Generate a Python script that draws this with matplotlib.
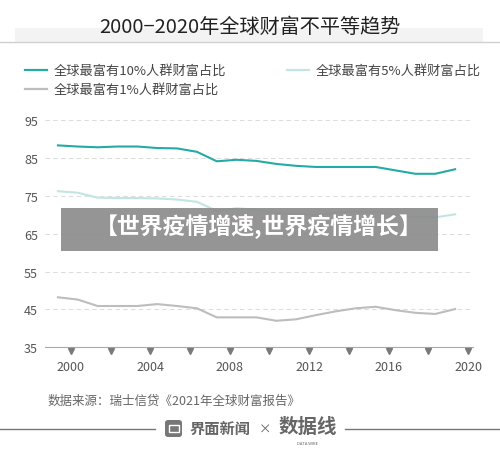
import numpy as np
import matplotlib
matplotlib.use("Agg")
import matplotlib.pyplot as plt
from matplotlib.patches import Rectangle, FancyBboxPatch
from matplotlib import transforms

plt.rcParams['font.family'] = ['Noto Sans CJK SC', 'DejaVu Sans']

# data (share of global wealth, %)
years = list(range(2000, 2021))
top10 = [88.3, 88.0, 87.8, 88.0, 88.0, 87.6, 87.5, 86.6, 84.1, 84.5, 84.2,
         83.4, 82.9, 82.6, 82.6, 82.6, 82.6, 81.7, 80.8, 80.8, 82.0]
top5 = [76.2, 75.8, 74.5, 74.4, 74.4, 74.3, 74.0, 73.4, 71.0, 71.7, 71.3,
        70.5, 70.1, 70.0, 70.5, 70.8, 70.8, 70.0, 69.4, 69.3, 70.1]
top1 = [48.2, 47.6, 45.9, 45.9, 45.9, 46.4, 45.9, 45.3, 42.9, 42.9, 42.9,
        42.0, 42.4, 43.5, 44.5, 45.3, 45.7, 44.8, 44.1, 43.8, 45.1]
labels = ['全球最富有10%人群财富占比', '全球最富有5%人群财富占比', '全球最富有1%人群财富占比']
colors = ['#26aaa5', '#c2e5e1', '#bdbdbd']
yticks = [35, 45, 55, 65, 75, 85, 95]
xlabel_years = [2000, 2004, 2008, 2012, 2016, 2020]
xmark_years = list(range(2000, 2021, 2))
shift = 0.65  # the axis labels sit a bit to the right of the data points

fig = plt.figure(figsize=(5, 4.6), dpi=100)
fig.patch.set_facecolor('white')

# title band
fig.patches.append(Rectangle((0.03, 1 - 43 / 460), 0.936, 14 / 460, transform=fig.transFigure,
                             facecolor='#f3f3f3', edgecolor='none', zorder=0))
fig.add_artist(plt.Line2D([0, 1], [1 - 43 / 460] * 2, color='#d0d0d0', lw=1))
fig.text(0.5, 1 - 27 / 460, '2000−2020年全球财富不平等趋势', ha='center', va='center',
         fontsize=14.5, color='#222222', weight='medium')

ax = fig.add_axes([0.09, 1 - 348.3 / 460, 0.856, (348.3 - 121) / 460])
x = np.array(years, dtype=float)
ax.plot(x, top10, color=colors[0], lw=1.5, zorder=3)
ax.plot(x, top5, color=colors[1], lw=1.5, zorder=3)
ax.plot(x, top1, color=colors[2], lw=1.5, zorder=3)

ax.set_ylim(35, 95)
ax.set_xlim(1999.35, 2020.9)
ax.set_yticks(yticks)
ax.set_xticks([y + shift for y in xlabel_years])
ax.set_xticklabels([str(y) for y in xlabel_years])
ax.tick_params(length=0, labelsize=9, colors='#555555')
ax.tick_params(axis='y', pad=5)
ax.tick_params(axis='x', pad=9)
for s in ['top', 'right', 'left']:
    ax.spines[s].set_visible(False)
ax.spines['bottom'].set_color('#aaaaaa')
ax.grid(axis='y', color='#dddddd', ls=(0, (4, 3)), lw=0.8)
ax.set_axisbelow(True)

tr = transforms.offset_copy(ax.transData, fig=fig, x=0, y=-2.5, units='points')
ax.plot([y + shift for y in xmark_years], [35] * len(xmark_years), 'v', color='#7a7a7a',
        ms=4.5, transform=tr, clip_on=False, zorder=4)

# legend
leg_pos = [(25, 71), (287, 71), (25, 90)]
for (px, py), lab, c in zip(leg_pos, labels, colors):
    fig.add_artist(plt.Line2D([px / 500, (px + 22) / 500], [1 - py / 460] * 2, color=c, lw=1.6))
    fig.text((px + 29) / 500, 1 - py / 460, lab, ha='left', va='center', fontsize=9.5, color='#444444')

# grey overlay banner
fig.patches.append(Rectangle((61 / 500, 1 - 252 / 460), 377 / 500, 43 / 460, transform=fig.transFigure,
                             facecolor='#8a8a8a', edgecolor='none', alpha=0.9, zorder=5))
fig.text(259 / 500, 1 - 227 / 460, '【世界疫情增速,世界疫情增长】', ha='center', va='center',
         fontsize=16.5, color='white', weight='heavy', zorder=6)

# footer
fig.text(48 / 500, 1 - 401 / 460, '数据来源：瑞士信贷《2021年全球财富报告》', ha='left', va='center',
         fontsize=9, color='#666666')
fig.add_artist(plt.Line2D([0, 155 / 500], [1 - 430 / 460] * 2, color='#777777', lw=1))
fig.add_artist(plt.Line2D([345 / 500, 1], [1 - 430 / 460] * 2, color='#777777', lw=1))
fig.patches.append(FancyBboxPatch((165 / 500, 1 - 438 / 460), 17 / 500, 17 / 460,
                                  boxstyle='round,pad=0,rounding_size=0.006', transform=fig.transFigure,
                                  facecolor='#777777', edgecolor='none'))
fig.patches.append(Rectangle((168.5 / 500, 1 - 433 / 460), 10 / 500, 7 / 460, transform=fig.transFigure,
                             facecolor='none', edgecolor='white', lw=1))
fig.text(190 / 500, 1 - 429 / 460, '界面新闻', ha='left', va='center', fontsize=11, color='#666666',
         weight='bold')
fig.text(265 / 500, 1 - 430 / 460, '×', ha='center', va='center', fontsize=9, color='#666666')
fig.text(308 / 500, 1 - 427 / 460, '数据线', ha='center', va='center', fontsize=14, color='#666666',
         weight='bold')
fig.text(308 / 500, 1 - 444 / 460, 'DATA WIRE', ha='center', va='center', fontsize=3, color='#666666')

fig.savefig('out.png', dpi=100, facecolor='white')
